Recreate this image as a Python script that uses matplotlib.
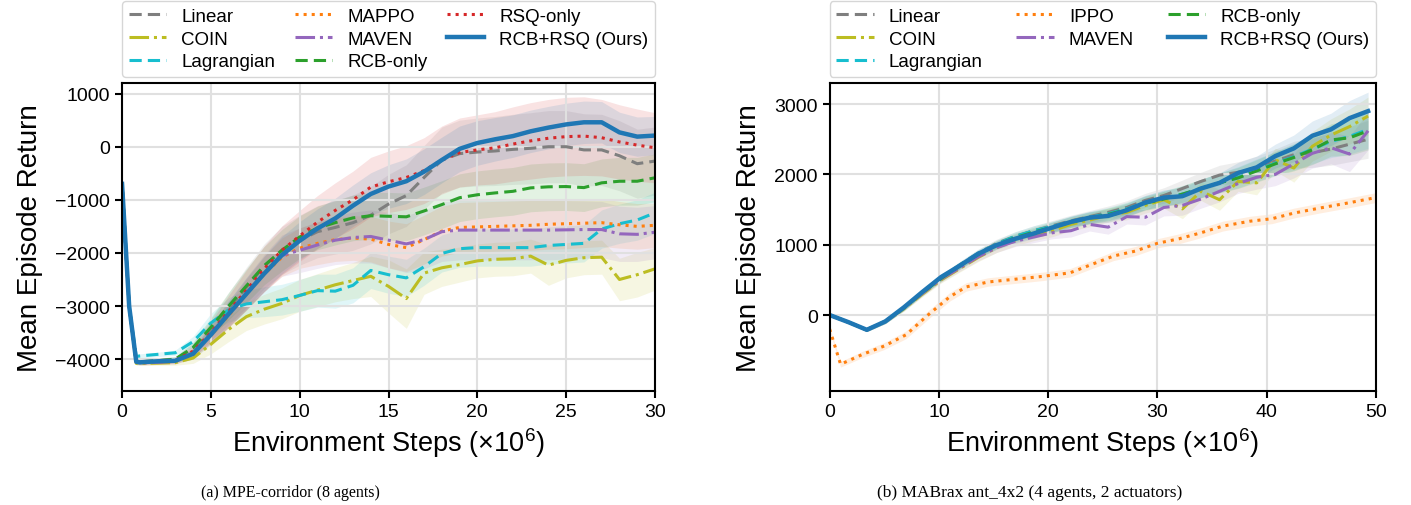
import numpy as np
import matplotlib
matplotlib.use('Agg')
import matplotlib.pyplot as plt

plt.rcParams['font.family'] = ['Liberation Sans', 'DejaVu Sans']
plt.rcParams['mathtext.fontset'] = 'custom'
plt.rcParams['mathtext.rm'] = 'Liberation Sans'
plt.rcParams['mathtext.it'] = 'Liberation Sans:italic'

# ---- (a) MPE-corridor data ----
x_mpe = [0, 0.4, 0.8, 1, 2, 3, 4, 5, 6, 7, 8, 9, 10, 11, 12, 13, 14, 15, 16, 17,
         18, 19, 20, 21, 22, 23, 24, 25, 26, 27, 28, 29, 30]

mpe_linear = [-700, -3000, -4050, -4050, -4030, -4000, -3800, -3450, -3050, -2650, -2250,
              -1950, -1760, -1600, -1520, -1430, -1290, -1080, -920, -580, -250, -130,
              -100, -80, -50, -30, 0, 0, -60, -60, -170, -320, -270]
mpe_coin = [-700, -3000, -4080, -4080, -4075, -4065, -3980, -3720, -3440, -3200, -3060,
            -2950, -2800, -2700, -2600, -2520, -2440, -2630, -2860, -2380, -2280, -2220,
            -2150, -2120, -2110, -2060, -2230, -2140, -2090, -2080, -2500, -2410, -2300]
mpe_lagr = [-700, -3000, -3950, -3940, -3910, -3880, -3670, -3320, -3070, -2960, -2920,
            -2880, -2800, -2710, -2720, -2610, -2330, -2410, -2470, -2260, -2010, -1920,
            -1900, -1900, -1900, -1900, -1860, -1840, -1820, -1550, -1450, -1380, -1245]
mpe_mappo = [-700, -3000, -4050, -4070, -4060, -4040, -3900, -3550, -3180, -2780, -2400,
             -2080, -1910, -1820, -1750, -1720, -1740, -1840, -1900, -1750, -1590, -1520,
             -1510, -1500, -1490, -1480, -1460, -1450, -1440, -1430, -1470, -1500, -1480]
mpe_maven = [-700, -3000, -4050, -4070, -4060, -4040, -3880, -3520, -3150, -2760, -2380,
             -2050, -1950, -1850, -1760, -1710, -1690, -1760, -1830, -1750, -1600, -1570,
             -1570, -1570, -1570, -1570, -1570, -1565, -1560, -1560, -1640, -1650, -1610]
mpe_rcb = [-700, -3000, -4050, -4050, -4030, -4000, -3780, -3400, -3000, -2620, -2240,
           -1950, -1700, -1530, -1430, -1340, -1300, -1310, -1320, -1210, -1090, -960,
           -905, -870, -840, -775, -755, -750, -770, -680, -650, -650, -585]
mpe_rsq = [-700, -3000, -4050, -4060, -4040, -4020, -3850, -3500, -3100, -2700, -2300,
           -1950, -1680, -1420, -1200, -1000, -760, -660, -580, -450, -250, -110,
           -60, -20, 50, 110, 160, 190, 200, 170, 90, 30, -20]
mpe_ours = [-700, -3000, -4050, -4060, -4040, -4030, -3900, -3540, -3150, -2770, -2390,
            -2040, -1770, -1540, -1350, -1110, -890, -750, -650, -470, -250, -40,
            70, 140, 200, 290, 360, 420, 460, 460, 270, 190, 210]

mpe_linear_sd = [60, 80, 40, 40, 40, 50, 100, 200, 300, 380, 420, 450, 470, 490, 500, 520, 540,
                 560, 580, 600, 620, 630, 640, 650, 660, 670, 680, 680, 680, 670, 660, 650, 640]
mpe_coin_sd = [60, 80, 40, 40, 40, 50, 100, 180, 230, 260, 280, 290, 300, 310, 320, 340, 380,
               500, 560, 400, 350, 330, 320, 320, 320, 320, 380, 330, 320, 320, 400, 420, 400]
mpe_lagr_sd = [60, 80, 40, 40, 40, 50, 100, 180, 230, 260, 280, 290, 300, 310, 320, 330, 340,
               350, 350, 350, 350, 350, 350, 350, 350, 350, 350, 350, 350, 360, 370, 380, 390]
mpe_mappo_sd = [60, 80, 40, 40, 40, 50, 90, 160, 230, 290, 330, 360, 380, 400, 410, 420, 430,
                440, 450, 460, 470, 470, 470, 470, 470, 470, 470, 470, 460, 450, 440, 430, 420]
mpe_maven_sd = [60, 80, 40, 40, 40, 50, 90, 160, 240, 300, 350, 390, 420, 440, 460, 480, 500,
                520, 540, 550, 560, 560, 560, 560, 560, 560, 560, 550, 540, 530, 520, 510, 500]
mpe_rcb_sd = [60, 80, 40, 40, 40, 50, 100, 180, 260, 320, 360, 390, 400, 410, 420, 430, 440,
              450, 450, 450, 450, 450, 450, 450, 450, 450, 450, 450, 450, 450, 450, 450, 450]
mpe_rsq_sd = [60, 80, 40, 40, 40, 50, 100, 200, 300, 380, 430, 460, 480, 500, 520, 540, 560,
              580, 600, 620, 640, 650, 660, 680, 700, 720, 730, 740, 740, 720, 700, 680, 660]
mpe_ours_sd = [60, 80, 40, 40, 40, 50, 100, 180, 250, 300, 330, 350, 360, 370, 380, 390, 400,
               410, 420, 430, 430, 430, 420, 410, 400, 400, 400, 400, 400, 390, 380, 370, 360]

# ---- (b) MABrax ant_4x2 data ----
x_ant = [0, 1.7, 3.4, 5.1, 6.8, 8.5, 10.2, 11.9, 13.6, 15.3, 17, 18.7, 20.4, 22.1, 23.8,
         25.5, 27.2, 28.9, 30.6, 32.3, 34, 35.7, 37.4, 39.1, 40.8, 42.5, 44.2, 45.9, 47.6, 49.3]
x_ippo = [0, 1, 3, 5, 7, 9, 11, 12.5, 14.5, 17, 19.5, 22, 24, 26, 28, 30, 32, 34, 36,
          38.5, 40.5, 42.5, 45, 47.5, 50]

ant_linear = [0, -100, -210, -90, 100, 320, 530, 710, 880, 1020, 1120, 1200, 1270, 1340, 1400,
              1460, 1530, 1630, 1700, 1800, 1900, 1990, 2030, 2100, 2190, 2280, 2310, 2360, 2430, 2500]
ant_coin = [0, -100, -210, -90, 90, 300, 500, 660, 820, 960, 1060, 1140, 1200, 1290, 1350,
            1420, 1460, 1560, 1640, 1510, 1760, 1640, 1900, 1880, 2210, 2090, 2400, 2560, 2680, 2830]
ant_lagr = [0, -100, -210, -90, 100, 320, 530, 710, 880, 1010, 1120, 1200, 1260, 1330, 1390,
            1440, 1510, 1600, 1660, 1720, 1800, 1880, 1960, 2060, 2160, 2250, 2360, 2470, 2540, 2640]
ant_ippo = [-200, -700, -560, -440, -280, 0, 260, 400, 470, 510, 550, 600, 720, 840, 910,
            1020, 1085, 1170, 1265, 1335, 1370, 1450, 1525, 1595, 1670]
ant_maven = [0, -100, -210, -90, 100, 310, 510, 670, 830, 960, 1050, 1110, 1170, 1200, 1290,
             1250, 1400, 1390, 1530, 1560, 1650, 1760, 1870, 1960, 2000, 2150, 2300, 2380, 2290, 2620]
ant_rcb = [0, -100, -210, -90, 100, 320, 520, 700, 860, 1000, 1100, 1180, 1250, 1320, 1380,
           1430, 1500, 1590, 1650, 1720, 1800, 1880, 1950, 2050, 2150, 2240, 2350, 2490, 2520, 2620]
ant_ours = [0, -100, -210, -90, 110, 330, 540, 700, 870, 995, 1085, 1160, 1245, 1325, 1385,
            1410, 1490, 1600, 1670, 1690, 1800, 1880, 2020, 2100, 2260, 2370, 2550, 2640, 2800, 2900]

ant_sd = [15, 20, 25, 30, 35, 40, 45, 50, 55, 60, 65, 70, 75, 80, 85, 90, 95, 100, 110, 120,
          130, 140, 150, 160, 170, 190, 210, 230, 250, 270]
ant_coin_sd = [15, 20, 25, 30, 35, 40, 45, 50, 60, 70, 75, 80, 85, 90, 95, 100, 105, 110, 120,
               140, 130, 150, 140, 170, 160, 200, 210, 230, 250, 270]
ant_ippo_sd = [30, 40, 45, 50, 55, 60, 60, 60, 60, 60, 60, 60, 60, 65, 65, 65, 70, 70, 70,
               70, 70, 70, 70, 70, 70]

colors = {
    'Linear': '#7f7f7f', 'COIN': '#bcbd22', 'Lagrangian': '#17becf', 'MAPPO': '#ff7f0e',
    'IPPO': '#ff7f0e', 'MAVEN': '#9467bd', 'RCB-only': '#2ca02c', 'RSQ-only': '#d62728',
    'RCB+RSQ (Ours)': '#1f77b4',
}
styles = {
    'Linear': (0, (4, 2)), 'COIN': '-.', 'Lagrangian': (0, (4, 2)), 'MAPPO': ':', 'IPPO': ':',
    'MAVEN': '-.', 'RCB-only': (0, (4, 2)), 'RSQ-only': ':', 'RCB+RSQ (Ours)': '-',
}


def draw(ax, x, y, sd, name):
    y = np.array(y)
    sd = np.array(sd)
    c = colors[name]
    lw = 3.2 if name == 'RCB+RSQ (Ours)' else 2.2
    ax.fill_between(x, y - sd, y + sd, color=c, alpha=0.13, lw=0)
    ax.plot(x, y, color=c, ls=styles[name], lw=lw, label=name)


def style_axes(ax):
    ax.grid(True, color='0.88', lw=1.5)
    for s in ax.spines.values():
        s.set_linewidth(1.5)
    ax.tick_params(labelsize=14, width=1.5, length=5)
    ax.set_xlabel(r'Environment Steps ($\times 10^6$)', fontsize=19.5)
    ax.set_ylabel('Mean Episode Return', fontsize=20, labelpad=9)
    ax.legend(loc='lower left', bbox_to_anchor=(0, 1.02, 1, 0.2), mode='expand', ncol=3,
              fontsize=13.5, handlelength=2.0, labelspacing=0.3, borderaxespad=0,
              borderpad=0.35, fancybox=True, edgecolor='0.8')


fig = plt.figure(figsize=(14.11, 5.06), dpi=100)
ax1 = fig.add_axes([0.0865, 0.2253, 0.3777, 0.6087])
ax2 = fig.add_axes([0.588, 0.2253, 0.387, 0.6087])

draw(ax1, x_mpe, mpe_linear, mpe_linear_sd, 'Linear')
draw(ax1, x_mpe, mpe_coin, mpe_coin_sd, 'COIN')
draw(ax1, x_mpe, mpe_lagr, mpe_lagr_sd, 'Lagrangian')
draw(ax1, x_mpe, mpe_mappo, mpe_mappo_sd, 'MAPPO')
draw(ax1, x_mpe, mpe_maven, mpe_maven_sd, 'MAVEN')
draw(ax1, x_mpe, mpe_rcb, mpe_rcb_sd, 'RCB-only')
draw(ax1, x_mpe, mpe_rsq, mpe_rsq_sd, 'RSQ-only')
draw(ax1, x_mpe, mpe_ours, mpe_ours_sd, 'RCB+RSQ (Ours)')
ax1.set_xlim(0, 30)
ax1.set_ylim(-4600, 1200)
ax1.set_yticks([-4000, -3000, -2000, -1000, 0, 1000])
style_axes(ax1)

draw(ax2, x_ant, ant_linear, ant_sd, 'Linear')
draw(ax2, x_ant, ant_coin, ant_coin_sd, 'COIN')
draw(ax2, x_ant, ant_lagr, ant_sd, 'Lagrangian')
draw(ax2, x_ippo, ant_ippo, ant_ippo_sd, 'IPPO')
draw(ax2, x_ant, ant_maven, ant_coin_sd, 'MAVEN')
draw(ax2, x_ant, ant_rcb, ant_sd, 'RCB-only')
draw(ax2, x_ant, ant_ours, ant_sd, 'RCB+RSQ (Ours)')
ax2.set_xlim(0, 50)
ax2.set_ylim(-1080, 3300)
ax2.set_yticks([0, 1000, 2000, 3000])
style_axes(ax2)

fig.text(0.206, 0.026, '(a) MPE-corridor (8 agents)', ha='center', va='center',
         fontsize=11.5, family='Liberation Serif')
fig.text(0.73, 0.026, '(b) MABrax ant_4x2 (4 agents, 2 actuators)', ha='center', va='center',
         fontsize=12.5, family='Liberation Serif')

fig.savefig('out.png', dpi=100)
